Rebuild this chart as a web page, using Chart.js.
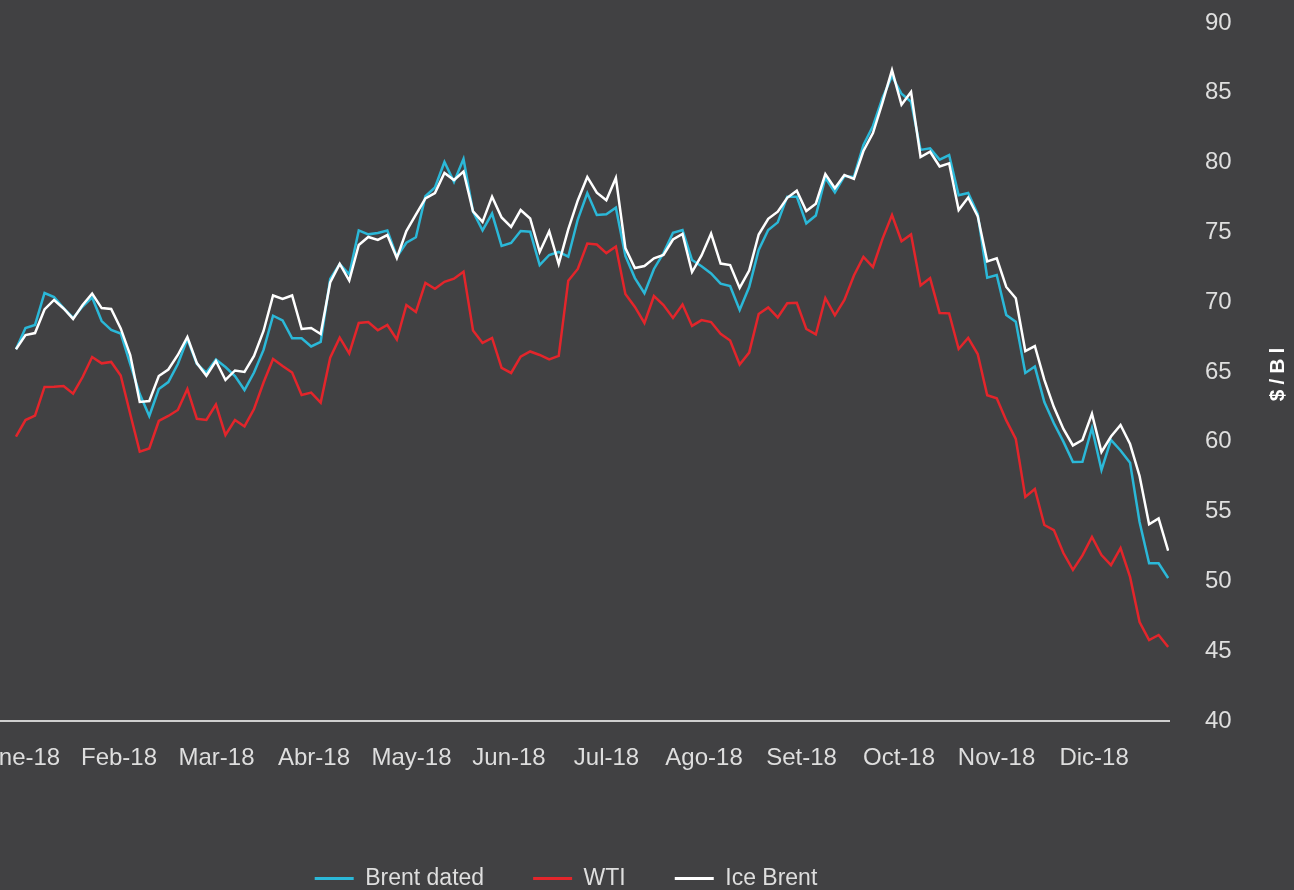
<!DOCTYPE html>
<html><head><meta charset="utf-8">
<script src="https://cdn.jsdelivr.net/npm/chart.js@4.4.1/dist/chart.umd.min.js"></script>
<style>
html,body{margin:0;padding:0;background:#414143;overflow:hidden;width:1294px;height:890px;}
#wrap{position:absolute;left:-162px;top:0;width:1456px;height:900px;}
</style></head><body>
<div id="wrap"><canvas id="c"></canvas></div>
<script>
// Month tick labels
const monthLabels = ['Ene-18','Feb-18','Mar-18','Abr-18','May-18','Jun-18','Jul-18','Ago-18','Set-18','Oct-18','Nov-18','Dic-18'];
// Samples every 3 calendar days starting 2 Jan 2018 (day-of-year index 1)
const firstDay = 1;
const stepDays = 3;
// $/Bl
const brentDated = [66.63,68.15,68.37,70.66,70.37,69.58,68.87,69.69,70.34,68.65,
 68.01,67.76,65.57,63.42,61.85,63.78,64.28,65.57,67.36,65.57,
 64.96,65.90,65.36,64.71,63.71,64.96,66.58,69.03,68.69,67.41,
 67.41,66.83,67.15,71.66,72.74,71.99,75.14,74.86,74.96,75.14,
 73.26,74.26,74.65,77.59,78.22,80.04,78.62,80.26,76.49,75.14,
 76.35,74.03,74.24,75.10,75.05,72.66,73.38,73.60,73.26,75.92,
 77.82,76.25,76.30,76.77,73.31,71.73,70.64,72.38,73.52,74.98,
 75.17,73.02,72.57,72.06,71.33,71.15,69.44,71.09,73.74,75.17,
 75.72,77.56,77.56,75.65,76.21,78.91,77.87,79.04,78.97,81.26,
 82.62,84.63,86.20,84.93,84.36,80.91,81.02,80.21,80.54,77.66,
 77.82,76.32,71.76,71.95,69.09,68.60,64.93,65.39,62.85,61.33,
 60.01,58.55,58.57,60.99,57.98,60.13,59.38,58.50,54.26,51.30,
 51.30,50.24];
const wti = [60.37,61.56,61.87,63.93,63.95,64.00,63.45,64.64,66.07,65.62,
 65.72,64.75,61.99,59.29,59.52,61.49,61.85,62.28,63.78,61.65,
 61.56,62.67,60.49,61.56,61.10,62.35,64.25,65.93,65.43,64.96,
 63.35,63.52,62.81,66.03,67.46,66.33,68.51,68.58,67.99,68.37,
 67.33,69.80,69.30,71.38,70.96,71.46,71.68,72.19,67.98,67.08,
 67.44,65.29,64.93,66.10,66.47,66.22,65.90,66.15,71.54,72.38,
 74.20,74.13,73.52,73.99,70.59,69.66,68.51,70.44,69.80,68.87,
 69.84,68.30,68.72,68.58,67.74,67.26,65.54,66.39,69.15,69.62,
 68.91,69.92,69.96,68.08,67.69,70.30,69.06,70.16,71.91,73.25,
 72.52,74.54,76.25,74.37,74.85,71.20,71.73,69.23,69.20,66.65,
 67.44,66.29,63.33,63.12,61.53,60.20,56.05,56.62,54.04,53.68,
 52.03,50.82,51.86,53.18,51.89,51.17,52.39,50.32,47.09,45.80,
 46.16,45.30];
const iceBrent = [66.63,67.65,67.79,69.48,70.16,69.55,68.80,69.80,70.62,69.58,
 69.51,68.12,66.22,62.85,62.92,64.71,65.18,66.22,67.51,65.64,
 64.73,65.79,64.43,65.11,65.00,66.15,67.94,70.48,70.23,70.48,
 68.08,68.15,67.72,71.41,72.74,71.55,74.10,74.67,74.46,74.81,
 73.17,75.10,76.28,77.43,77.82,79.26,78.75,79.36,76.50,75.75,
 77.56,76.07,75.39,76.60,76.00,73.60,75.08,72.74,75.21,77.29,
 78.97,77.84,77.30,78.90,73.88,72.45,72.59,73.14,73.38,74.49,
 74.89,72.16,73.35,74.92,72.77,72.66,71.02,72.27,74.85,75.97,
 76.48,77.48,77.99,76.53,77.06,79.18,78.16,79.11,78.84,80.83,
 82.12,84.30,86.63,84.14,85.06,80.40,80.78,79.72,79.95,76.60,
 77.50,76.17,72.92,73.14,71.09,70.28,66.50,66.86,64.43,62.49,
 60.92,59.74,60.13,62.01,59.27,60.38,61.20,59.84,57.55,54.09,
 54.51,52.20];
const yMin = 40, yMax = 90, yStep = 5;
const yTitle = '$/Bl';

const toPoints = arr => arr.map((v, i) => ({x: firstDay + stepDays * i, y: v}));

const TXT = '#dedede';
const FONT = '"Liberation Sans", Arial, sans-serif';
Chart.defaults.font.family = FONT;

const axisTitlePlugin = {
  id: 'axisTitle',
  afterDraw(chart) {
    const s = chart.scales.y, ctx = chart.ctx, a = chart.chartArea;
    ctx.save();
    ctx.translate(s.right - 16, (a.top + a.bottom) / 2);
    ctx.rotate(-Math.PI / 2);
    ctx.font = 'bold 21px ' + FONT;
    ctx.fillStyle = '#ffffff';
    ctx.textAlign = 'center';
    ctx.textBaseline = 'middle';
    try { ctx.letterSpacing = '5px'; } catch (e) {}
    ctx.fillText(yTitle, 0, 0);
    ctx.restore();
  }
};

new Chart(document.getElementById('c'), {
  type: 'line',
  data: {
    datasets: [
      {label: 'Brent dated', data: toPoints(brentDated), borderColor: '#2bb8d8', backgroundColor: '#2bb8d8', order: 1},
      {label: 'WTI', data: toPoints(wti), borderColor: '#e3252b', backgroundColor: '#e3252b', order: 2},
      {label: 'Ice Brent', data: toPoints(iceBrent), borderColor: '#ffffff', backgroundColor: '#ffffff', order: 0}
    ]
  },
  options: {
    responsive: true,
    maintainAspectRatio: false,
    animation: false,
    devicePixelRatio: 1,
    layout: {padding: {top: 23, left: 0, right: 0, bottom: 0}},
    elements: {line: {borderWidth: 2.5, tension: 0}, point: {radius: 0}},
    plugins: {
      tooltip: {enabled: false},
      legend: {
        position: 'bottom',
        labels: {
          boxWidth: 39, boxHeight: 3, padding: 49, color: TXT,
          font: {size: 23, family: FONT},
          generateLabels: chart => chart.data.datasets.map((ds, i) => ({
            text: ds.label, fillStyle: ds.borderColor, strokeStyle: ds.borderColor,
            lineWidth: 0, hidden: false, datasetIndex: i, fontColor: TXT
          }))
        }
      }
    },
    scales: {
      x: {
        type: 'linear',
        min: -55.07, max: 364.27,
        afterBuildTicks: s => { s.ticks = monthLabels.map((l, i) => ({value: 2.74 + 30.72 * i})); },
        afterFit: s => { s.height = 97; s.paddingLeft = 0; s.paddingRight = 0; },
        ticks: {autoSkip: false, maxRotation: 0, padding: 23, color: TXT, font: {size: 24},
          callback: (v, i) => monthLabels[i]},
        grid: {display: false, drawTicks: false},
        border: {display: true, color: '#cfcfcf', width: 2}
      },
      y: {
        type: 'linear',
        position: 'right',
        min: yMin, max: yMax,
        afterFit: s => { s.width = 125; s.paddingTop = 0; s.paddingBottom = 0; },
        ticks: {stepSize: yStep, padding: 36, color: TXT, font: {size: 24}},
        grid: {display: false, drawTicks: false},
        border: {display: false}
      }
    }
  },
  plugins: [axisTitlePlugin]
});
</script>
</body></html>
